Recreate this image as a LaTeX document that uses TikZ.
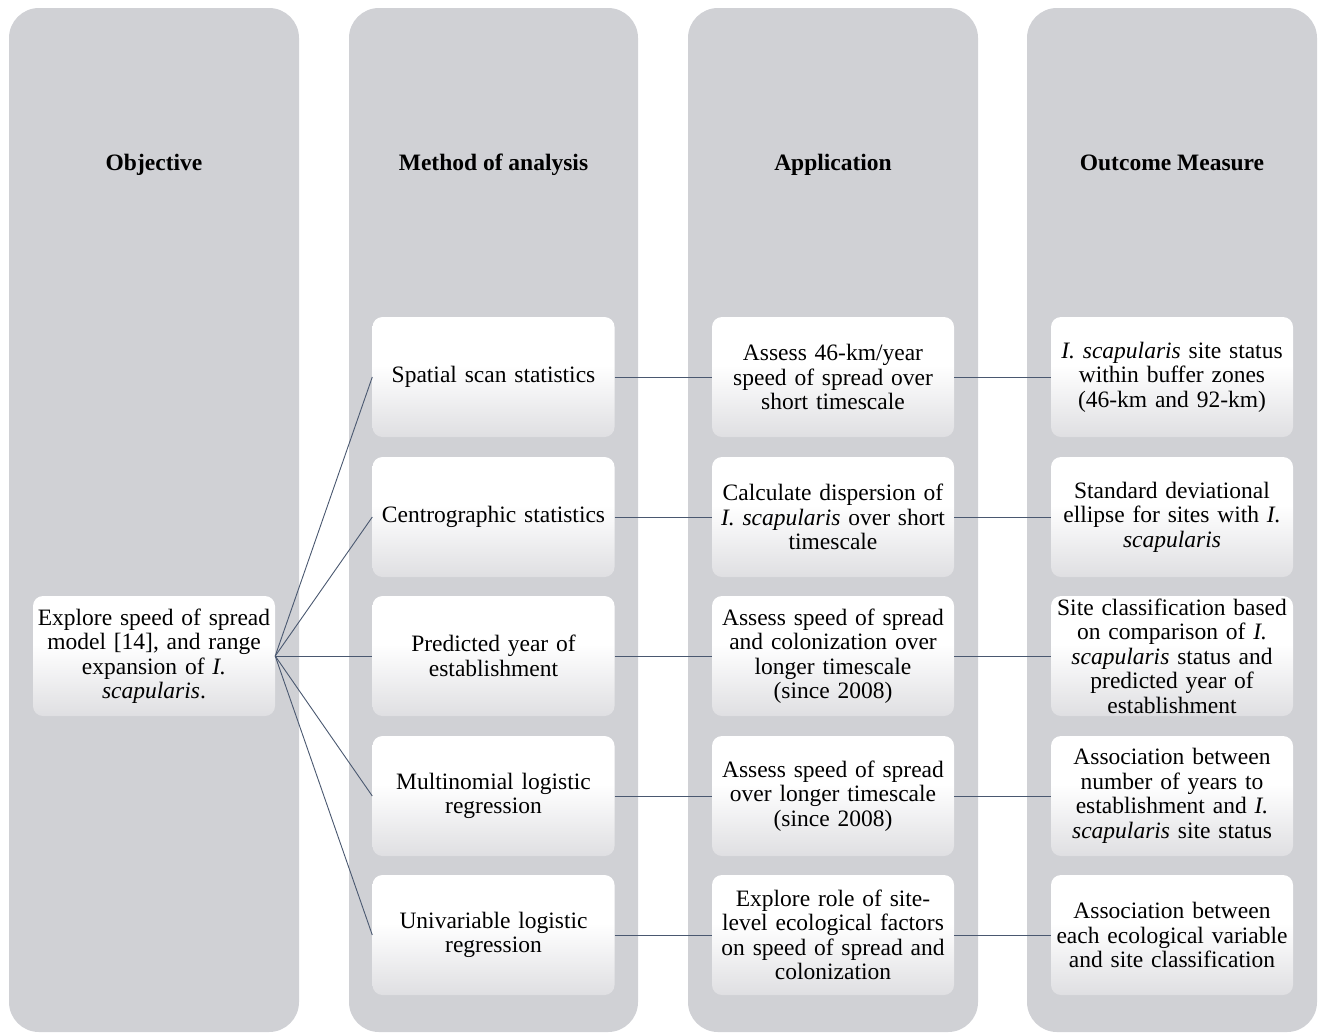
\documentclass[tikz,border=0pt]{standalone}
\usepackage{fontspec}
\setmainfont{Liberation Serif}
\definecolor{colgray}{HTML}{D0D1D5}
\definecolor{boxgray}{HTML}{DFDFE2}
\definecolor{linecol}{HTML}{4A5870}
\pgfdeclareverticalshading{boxshade}{100bp}{color(0bp)=(boxgray); color(25bp)=(boxgray); color(55bp)=(white); color(100bp)=(white)}
\begin{document}
\begin{tikzpicture}[x=1pt,y=-1pt,
  column/.style={fill=colgray, rounded corners=30pt},
  box/.style={shading=boxshade, rounded corners=10pt, minimum width=242pt, minimum height=120pt, text width=236pt, align=center, inner sep=2pt, font=\fontsize{23.5}{24.5}\selectfont},
  header/.style={anchor=base, font=\fontsize{23.5}{24.5}\selectfont\bfseries},
  link/.style={draw=linecol, line width=0.9pt}]
\useasboundingbox (0,0) rectangle (1321,1034);
\fill[column] (9,8) rectangle (299,1032);
\fill[column] (349,8) rectangle (638,1032);
\fill[column] (688,8) rectangle (978,1032);
\fill[column] (1027,8) rectangle (1317,1032);
\node[header] (h1) at (154,170) {Objective};
\node[header] (h2) at (493.5,170) {Method of analysis};
\node[header] (h3) at (833,170) {Application};
\node[header] (h4) at (1172,170) {Outcome Measure};
\node[box] (obj) at (154,656) {Explore speed of spread\\model [14], and range\\expansion of \textit{I.}\\\textit{scapularis}.};
\node[box] (m1) at (493.5,377) {Spatial scan statistics};
\node[box] (m2) at (493.5,517) {Centrographic statistics};
\node[box] (m3) at (493.5,656) {Predicted year of\\establishment};
\node[box] (m4) at (493.5,796) {Multinomial logistic\\regression};
\node[box] (m5) at (493.5,935) {Univariable logistic\\regression};
\node[box] (a1) at (833,377) {Assess 46-km/year\\speed of spread over\\short timescale};
\node[box] (a2) at (833,517) {Calculate dispersion of\\\textit{I. scapularis} over short\\timescale};
\node[box] (a3) at (833,656) {Assess speed of spread\\and colonization over\\longer timescale\\(since 2008)};
\node[box] (a4) at (833,796) {Assess speed of spread\\over longer timescale\\(since 2008)};
\node[box] (a5) at (833,935) {Explore role of site-\\level ecological factors\\on speed of spread and\\colonization};
\node[box] (o1) at (1172,377) {\textit{I. scapularis} site status\\within buffer zones\\(46-km and 92-km)};
\node[box] (o2) at (1172,517) {Standard deviational\\ellipse for sites with \textit{I.}\\\textit{scapularis}};
\node[box] (o3) at (1172,656) {Site classification based\\on comparison of \textit{I.}\\\textit{scapularis} status and\\predicted year of\\establishment};
\node[box] (o4) at (1172,796) {Association between\\number of years to\\establishment and \textit{I.}\\\textit{scapularis} site status};
\node[box] (o5) at (1172,935) {Association between\\each ecological variable\\and site classification};
\foreach \i in {1,...,5}{
  \draw[link] (obj.east) -- (m\i.west);
  \draw[link] (m\i.east) -- (a\i.west);
  \draw[link] (a\i.east) -- (o\i.west);
}
\end{tikzpicture}
\end{document}
